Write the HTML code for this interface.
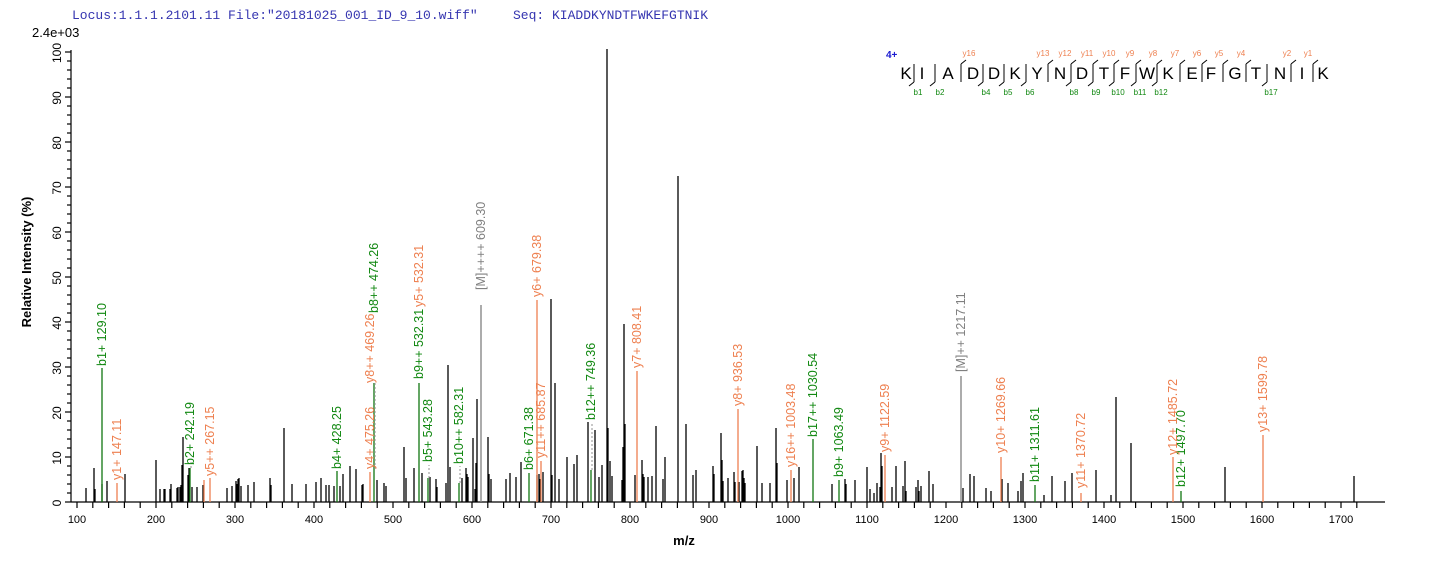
<!DOCTYPE html>
<html><head><meta charset="utf-8"><style>
html,body{margin:0;padding:0;background:#fff;}
svg{display:block;font-family:"Liberation Sans",Arial,sans-serif;}
</style></head><body>
<svg id="s" width="1436" height="562" viewBox="0 0 1436 562" xmlns="http://www.w3.org/2000/svg">
<rect width="1436" height="562" fill="#fff"/>
<text x="72" y="19" font-family="Liberation Mono,monospace" font-size="13" fill="#3535b0">Locus:1.1.1.2101.11 File:"20181025_001_ID_9_10.wiff"</text>
<text x="513" y="19" font-family="Liberation Mono,monospace" font-size="13" fill="#3535b0">Seq: KIADDKYNDTFWKEFGTNIK</text>
<text x="32" y="37" font-size="13" fill="#000">2.4e+03</text>
<g id="ax" stroke="#000" stroke-width="1.2"></g>
<g id="pk" stroke-width="1.3"></g>
<g font-size="12" fill="#000" text-anchor="middle">
<text transform="translate(61,503) rotate(-90)">0</text>
<text transform="translate(61,458) rotate(-90)">10</text>
<text transform="translate(61,413) rotate(-90)">20</text>
<text transform="translate(61,368) rotate(-90)">30</text>
<text transform="translate(61,323) rotate(-90)">40</text>
<text transform="translate(61,278) rotate(-90)">50</text>
<text transform="translate(61,233) rotate(-90)">60</text>
<text transform="translate(61,188) rotate(-90)">70</text>
<text transform="translate(61,143) rotate(-90)">80</text>
<text transform="translate(61,98) rotate(-90)">90</text>
<text transform="translate(61,53) rotate(-90)">100</text>
</g>
<g font-size="11" fill="#000" text-anchor="middle">
<text x="77" y="523">100</text><text x="156" y="523">200</text><text x="235" y="523">300</text><text x="314" y="523">400</text><text x="393" y="523">500</text><text x="472" y="523">600</text><text x="551" y="523">700</text><text x="630" y="523">800</text><text x="709" y="523">900</text><text x="788" y="523">1000</text><text x="867" y="523">1100</text><text x="946" y="523">1200</text><text x="1025" y="523">1300</text><text x="1104" y="523">1400</text><text x="1183" y="523">1500</text><text x="1262" y="523">1600</text><text x="1341" y="523">1700</text>
</g>
<text x="684" y="545" font-size="13" font-weight="bold" text-anchor="middle">m/z</text>
<text transform="translate(31,262) rotate(-90)" font-size="13" font-weight="bold" text-anchor="middle">Relative  Intensity (%)</text>

<g font-size="12.5">
<g fill="#118811">
<text transform="translate(106,366) rotate(-90)">b1+ 129.10</text>
<text transform="translate(194,465) rotate(-90)">b2+ 242.19</text>
<text transform="translate(341,469) rotate(-90)">b4+ 428.25</text>
<text transform="translate(378,313) rotate(-90)">b8++ 474.26</text>
<text transform="translate(423,379) rotate(-90)">b9++ 532.31</text>
<text transform="translate(432,462) rotate(-90)">b5+ 543.28</text>
<text transform="translate(463,464) rotate(-90)">b10++ 582.31</text>
<text transform="translate(533,470) rotate(-90)">b6+ 671.38</text>
<text transform="translate(595,420) rotate(-90)">b12++ 749.36</text>
<text transform="translate(817,437) rotate(-90)">b17++ 1030.54</text>
<text transform="translate(843,477) rotate(-90)">b9+ 1063.49</text>
<text transform="translate(1039,482) rotate(-90)">b11+ 1311.61</text>
<text transform="translate(1185,487) rotate(-90)">b12+ 1497.70</text>
</g>
<g fill="#ee8050">
<text transform="translate(121,480) rotate(-90)">y1+ 147.11</text>
<text transform="translate(214,476) rotate(-90)">y5++ 267.15</text>
<text transform="translate(374,469) rotate(-90)">y4+ 475.26</text>
<text transform="translate(374,383) rotate(-90)">y8++ 469.26</text>
<text transform="translate(423,307) rotate(-90)">y5+ 532.31</text>
<text transform="translate(541,297) rotate(-90)">y6+ 679.38</text>
<text transform="translate(545,458) rotate(-90)">y11++ 685.87</text>
<text transform="translate(641,368) rotate(-90)">y7+ 808.41</text>
<text transform="translate(742,406) rotate(-90)">y8+ 936.53</text>
<text transform="translate(795,467) rotate(-90)">y16++ 1003.48</text>
<text transform="translate(889,452) rotate(-90)">y9+ 1122.59</text>
<text transform="translate(1005,453) rotate(-90)">y10+ 1269.66</text>
<text transform="translate(1085,488) rotate(-90)">y11+ 1370.72</text>
<text transform="translate(1177,455) rotate(-90)">y12+ 1485.72</text>
<text transform="translate(1267,432) rotate(-90)">y13+ 1599.78</text>
</g>
<g fill="#808080">
<text transform="translate(485,290) rotate(-90)">[M]++++ 609.30</text>
<text transform="translate(965,372) rotate(-90)">[M]++ 1217.11</text>
</g>
</g>

<text x="886" y="58" font-size="10" font-weight="bold" fill="#1a1ad0">4+</text>
<g font-size="17" fill="#000" text-anchor="middle">
<text x="906" y="79">K</text><text x="922" y="79">I</text><text x="948" y="79">A</text><text x="973" y="79">D</text><text x="994" y="79">D</text><text x="1015" y="79">K</text><text x="1037" y="79">Y</text><text x="1060" y="79">N</text><text x="1082" y="79">D</text><text x="1104" y="79">T</text><text x="1125" y="79">F</text><text x="1147" y="79">W</text><text x="1168" y="79">K</text><text x="1192" y="79">E</text><text x="1211" y="79">F</text><text x="1235" y="79">G</text><text x="1256" y="79">T</text><text x="1280" y="79">N</text><text x="1302" y="79">I</text><text x="1323" y="79">K</text>
</g>
<g font-size="8" fill="#118811" text-anchor="middle">
<text x="918" y="95">b1</text><text x="940" y="95">b2</text><text x="986" y="95">b4</text><text x="1008" y="95">b5</text><text x="1030" y="95">b6</text><text x="1074" y="95">b8</text><text x="1096" y="95">b9</text><text x="1118" y="95">b10</text><text x="1140" y="95">b11</text><text x="1161" y="95">b12</text><text x="1271" y="95">b17</text>
</g>
<g font-size="8" fill="#ee8050" text-anchor="middle">
<text x="969" y="56">y16</text><text x="1043" y="56">y13</text><text x="1065" y="56">y12</text><text x="1087" y="56">y11</text><text x="1109" y="56">y10</text><text x="1130" y="56">y9</text><text x="1153" y="56">y8</text><text x="1175" y="56">y7</text><text x="1197" y="56">y6</text><text x="1219" y="56">y5</text><text x="1241" y="56">y4</text><text x="1287" y="56">y2</text><text x="1308" y="56">y1</text>
</g>
<g id="seq" stroke="#000" stroke-width="1" fill="none"></g>
</svg>
<script>
var NS="http://www.w3.org/2000/svg";
function L(g,x1,y1,x2,y2,c,d){var l=document.createElementNS(NS,"line");l.setAttribute("x1",x1);l.setAttribute("y1",y1);l.setAttribute("x2",x2);l.setAttribute("y2",y2);if(c)l.setAttribute("stroke",c);if(d)l.setAttribute("stroke-dasharray",d);document.getElementById(g).appendChild(l);}
// axes
L("ax",71,502,1385,502);L("ax",71,50,71,502);
for(var v=0;v<=100;v+=2){var y=502-v*4.5;L("ax",65+(v%10?2:0),y,71,y);}
for(var m=100;m<=1720;m+=20){var x=77+(m-100)*0.79;L("ax",x,502,x,508);}
// black peaks [x, ytop]
var b=[[86,488],[94,468],[95,489],[102,484],[107,481],[125,474],[156,460],[160,489],[164,489],[165,489],[170,489],[171,484],[177,488],[178,487],[180,487],[181,485],[182,465],[183,437],[188,475],[189,468],[192,487],[197,487],[203,485],[227,488],[232,486],[236,481],[237,484],[238,479],[239,478],[241,486],[248,485],[254,482],[270,478],[271,485],[284,428],[292,484],[306,484],[316,482],[321,478],[326,485],[329,485],[334,486],[340,486],[343,474],[350,466],[356,469],[362,485],[363,484],[377,480],[384,483],[386,486],[404,447],[406,478],[414,468],[422,473],[430,477],[436,479],[437,487],[446,483],[448,365],[450,467],[462,478],[466,468],[467,474],[468,477],[473,438],[475,489],[476,463],[477,399],[488,437],[489,474],
[491,479],[506,479],[510,473],[516,477],[521,462],[537,475],[539,474],[540,479],[543,472],[551,299],[552,475],[555,383],[559,479],[567,457],[574,464],[577,455],[588,422],[595,430],[599,477],[602,465],[607,49],[608,428],[610,461],[612,476],[622,480],[623,447],[624,324],[625,424],[635,475],[642,460],[643,474],[644,477],[648,477],[652,476],[656,426],[663,479],[665,457],[678,176],[686,424],[693,475],[696,470],[713,466],[714,474],[721,433],[722,460],[723,481],[728,478],[734,472],[735,482],[739,482],[742,471],[743,470],[744,478],[745,483],[757,446],[762,483],[770,483],[776,428],[777,463],[787,480],[794,478],[799,467],[832,484],[845,479],[846,484],[855,480],[867,467],[870,489],[874,493],[877,483],[880,487],[881,453],[882,466],[892,487],[896,466],
[903,486],[905,461],[906,491],[916,487],[918,480],[919,491],[921,486],[929,471],[933,484],[963,488],[970,474],[974,476],[986,488],[991,491],[1002,479],[1008,483],[1018,491],[1021,481],[1023,473],[1044,495],[1052,476],[1065,481],[1072,473],[1096,470],[1111,495],[1116,397],[1131,443],[1225,467],[1354,476]];
b.forEach(function(p){L("pk",p[0],502,p[0],p[1],"#000");});
var G="#117711",O="#ee8050",R="#808080";
var c=[[102,368,G],[117,483,O],[190,468,G],[204,480,O],[210,478,O],[337,471,G],[370,472,O],[374,383,G],[419,383,G],[428,478,G],[459,483,G],[481,305,R],[529,473,G],[537,300,O],[541,461,O],[591,470,G],[637,371,O],[738,409,O],[791,470,O],[813,439,G],[839,480,G],[885,455,O],[961,376,R],[1001,457,O],[1035,485,G],[1081,493,O],[1173,457,O],[1181,491,G],[1263,435,O]];
c.forEach(function(p){L("pk",p[0],502,p[0],p[1],p[2]);});
// dashed connectors
[[190,468,462],[374,383,470],[428,478,465],[459,483,466],[591,470,422]].forEach(function(p){L("pk",p[0]+1,p[1],p[0]+1,p[2],"#aaa","2,2");});
// sequence brackets
var sep=[[914,0,1],[935,0,1],[961,1,0],[983,0,1],[1004,0,1],[1026,0,1],[1048,1,0],[1071,1,1],[1093,1,1],[1114,1,1],[1136,1,1],[1157,1,1],[1180,1,0],[1202,1,0],[1223,1,0],[1246,1,0],[1267,0,1],[1291,1,0],[1313,1,0]];
sep.forEach(function(s){var x=s[0];L("seq",x,64,x,82,"#000");if(s[1])L("seq",x,64,x+5,60,"#000");if(s[2])L("seq",x,82,x-5,86,"#000");});
</script>
</body></html>
